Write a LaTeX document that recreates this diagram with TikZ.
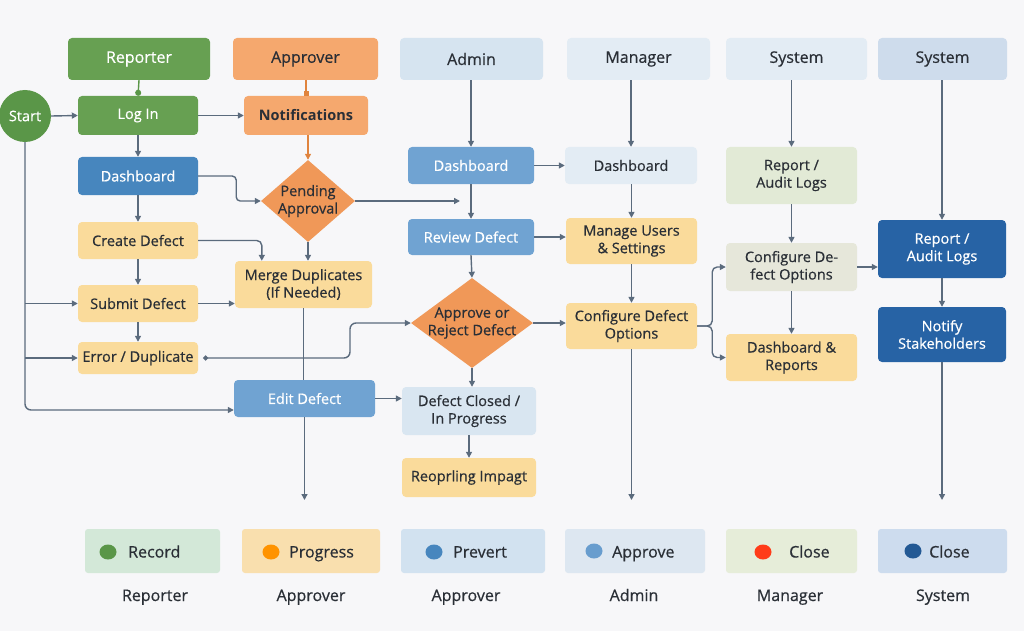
\documentclass[tikz,border=0pt]{standalone}
\usepackage{fontspec}
\setmainfont{Open Sans}[UprightFeatures={FakeBold=0.6}]
\usetikzlibrary{arrows.meta,shapes.geometric}
\definecolor{bg}{HTML}{F7F7F9}
\definecolor{ln}{HTML}{5B6B7D}
\definecolor{txt}{HTML}{2A2F36}
\definecolor{grn}{HTML}{67A052}
\definecolor{grnd}{HTML}{5A9648}
\definecolor{org}{HTML}{F5A86E}
\definecolor{orgd}{HTML}{F09858}
\definecolor{orgl}{HTML}{E0843E}
\definecolor{blu}{HTML}{4786BE}
\definecolor{blum}{HTML}{70A3D2}
\definecolor{bluh}{HTML}{D6E4F0}
\definecolor{blul}{HTML}{E3ECF4}
\definecolor{bluc}{HTML}{D9E6F1}
\definecolor{blus}{HTML}{CEDCEC}
\definecolor{yel}{HTML}{FADB9B}
\definecolor{gry1}{HTML}{E2EAD6}
\definecolor{gry2}{HTML}{E6E7DA}
\definecolor{dblu}{HTML}{2763A5}
\definecolor{lgG}{HTML}{D3E8D8}
\definecolor{lgO}{HTML}{F9DFAE}
\definecolor{lgB}{HTML}{D2E2F0}
\definecolor{lgA}{HTML}{DDE7F1}
\definecolor{lgM}{HTML}{E6EDD9}
\definecolor{lgS}{HTML}{CDDCEE}
\tikzset{
  bx/.style={rectangle, rounded corners=4pt, draw=none, inner sep=2pt, align=center,
     font=\fontsize{14.5}{17.5}\selectfont, text=txt},
  hd/.style={bx, font=\fontsize{16}{19}\selectfont, minimum height=42pt},
  wt/.style={text=white},
  dia/.style={diamond, fill=orgd, draw=none, inner sep=0pt},
  arr/.style={draw=ln, line width=1.4pt, -{Triangle[length=6pt,width=6pt]}},
  ln0/.style={draw=ln, line width=1.2pt},
  lg/.style={rectangle, rounded corners=3pt, minimum height=44pt},
  dot/.style={ellipse, minimum width=17pt, minimum height=15pt, inner sep=0pt},
  lgt/.style={font=\fontsize{16}{19}\selectfont, text=txt, inner sep=0pt},
}
\begin{document}
\begin{tikzpicture}[x=1pt,y=-1pt]
\fill[bg] (0,0) rectangle (1024,631);
\useasboundingbox (0,0) rectangle (1024,631);
% headers
\node[hd, fill=grn, wt, minimum width=142pt] (hRep) at (139,59) {Reporter};
\node[hd, fill=org, minimum width=145pt] (hApp) at (305.5,59) {Approver};
\node[hd, fill=bluh, minimum width=143pt] (hAdm) at (471.5,59) {Admin};
\node[hd, fill=blul, minimum width=143pt] (hMan) at (638.5,59) {Manager};
\node[hd, fill=blul, minimum width=141pt] (hSys1) at (796.5,59) {System};
\node[hd, fill=blus, minimum width=129pt] (hSys2) at (942.5,59) {System};
% reporter column
\node[circle, fill=grnd, minimum size=52pt, inner sep=0pt, text=white, font=\fontsize{14.5}{17}\selectfont] (start) at (25,116) {Start};
\node[bx, fill=grn, wt, minimum width=120pt, minimum height=39pt] (login) at (138,115.5) {Log In};
\node[bx, fill=blu, wt, minimum width=120pt, minimum height=38pt] (dash1) at (138,176) {Dashboard};
\node[bx, fill=yel, minimum width=120pt, minimum height=37pt] (create) at (138,240.5) {Create Defect};
\node[bx, fill=yel, minimum width=120pt, minimum height=37pt] (submit) at (138,303.5) {Submit Defect};
\node[bx, fill=yel, minimum width=120pt, minimum height=32pt] (error) at (138,358) {Error / Duplicate};
% approver column
\node[bx, fill=org, minimum width=124pt, minimum height=39pt, font=\fontsize{14.5}{17.5}\selectfont\bfseries] (notif) at (306,115.5) {Notifications};
\node[dia, minimum width=94pt, minimum height=82pt] (pend) at (308,201) {};
\node[bx, fill=none] (pendT) at (pend.center) {Pending\\Approval};
\node[bx, fill=yel, minimum width=137pt, minimum height=47pt] (merge) at (303.5,284.5) {Merge Duplicates\\(If Needed)};
\node[bx, fill=blum, wt, minimum width=141pt, minimum height=37pt] (edit) at (304.5,398.5) {Edit Defect};
% admin column
\node[bx, fill=blum, wt, minimum width=126pt, minimum height=37pt] (adash) at (471,165.5) {Dashboard};
\node[bx, fill=blum, wt, minimum width=126pt, minimum height=36pt] (review) at (471,237) {Review Defect};
\node[dia, minimum width=122pt, minimum height=90pt] (appr) at (472,323) {};
\node[bx, fill=none] (apprT) at (appr.center) {Approve or\\Reject Defect};
\node[bx, fill=bluc, minimum width=134pt, minimum height=48pt] (closed) at (469,411) {Defect Closed /\\In Progress};
\node[bx, fill=yel, minimum width=134pt, minimum height=39pt] (reop) at (469,477.5) {Reoprling Impagt};
% manager column
\node[bx, fill=blul, minimum width=132pt, minimum height=37pt] (mdash) at (631,165.5) {Dashboard};
\node[bx, fill=yel, minimum width=131pt, minimum height=46pt] (manage) at (631.5,241) {Manage Users\\\& Settings};
\node[bx, fill=yel, minimum width=131pt, minimum height=46pt] (config) at (631.5,326) {Configure Defect\\Options};
% system 1
\node[bx, fill=gry1, minimum width=131pt, minimum height=57pt] (rep1) at (791.5,175.5) {Report /\\Audit Logs};
\node[bx, fill=gry2, minimum width=131pt, minimum height=48pt] (cfg2) at (791.5,267) {Configure De-\\fect Options};
\node[bx, fill=yel, minimum width=131pt, minimum height=47pt] (dashrep) at (791.5,357.5) {Dashboard \&\\Reports};
% system 2
\node[bx, fill=dblu, wt, minimum width=128pt, minimum height=58pt] (rep2) at (942,249) {Report /\\Audit Logs};
\node[bx, fill=dblu, wt, minimum width=128pt, minimum height=55pt] (notify) at (942,334.5) {Notify\\Stakeholders};
% free ends
\coordinate (pendEnd) at (460,201);
\coordinate (editEnd) at (304.5,500);
\coordinate (configEnd) at (631.5,500);
\coordinate (notifyEnd) at (942,500);
% connectors
\draw[draw=grnd, line width=1.4pt, -{Circle[length=6pt]}] (hRep.south) -- (login.north);
\draw[draw=orgl, line width=1.4pt, -{Square[length=5pt]}] (hApp.south -| notif.north) -- (notif.north);
\draw[arr] (start.east) -- (login.west);
\draw[arr] (login.east) -- (notif.west);
\draw[arr] (login.south) -- (dash1.north);
\draw[arr] (dash1.south) -- (create.north);
\draw[arr] (create.south) -- (submit.north);
\draw[arr] (submit.south) -- (error.north);
\draw[arr, draw=orgl] (notif.south -| pend.north) -- (pend.north);
\draw[arr, rounded corners=4pt] (dash1.east) -- ++(38,0) |- (pend.west);
\draw[arr] (pend.east) -- (pendEnd);
\draw[arr] (pend.south) -- (pend.south |- merge.north);
\draw[arr, rounded corners=5pt] (create.east) -| ([xshift=27pt]merge.north west);
\draw[arr] (submit.east) -- (submit.east -| merge.west);
\draw[ln0] (merge.south) -- (merge.south |- edit.north);
\draw[arr, rounded corners=6pt] (start.south) -- (start.south |- 0,410) -- (edit.west |- 0,410);
\draw[arr] (start.south |- submit.west) -- (submit.west);
\draw[arr] (start.south |- error.west) -- (error.west);
\draw[arr] (edit.south) -- (editEnd);
\draw[arr] (edit.east) -- (edit.east -| closed.west);
\draw[draw=ln, line width=1.4pt, {Circle[length=5pt]}-{Triangle[length=6pt,width=6pt]}, rounded corners=6pt]
   ([xshift=5pt]error.east) -- (350,358) -- (350,323) -- (appr.west);
\draw[arr] (hAdm.south -| adash.north) -- (adash.north);
\draw[arr] (adash.south) -- (review.north);
\draw[arr] (review.south) -- (appr.north);
\draw[arr] (appr.south) -- (appr.south |- closed.north);
\draw[arr] (closed.south) -- (reop.north);
\draw[arr] (adash.east) -- (mdash.west |- adash.east);
\draw[arr] (review.east) -- (manage.west |- review.east);
\draw[arr] (appr.east) -- (config.west |- appr.east);
\draw[arr] (mdash.north |- hMan.south) -- (mdash.north);
\draw[arr] (mdash.south -| manage.north) -- (manage.north);
\draw[arr] (manage.south) -- (config.north);
\draw[arr] (config.south) -- (configEnd);
\draw[arr, rounded corners=5pt] (config.east) -- ++(15,0) |- (cfg2.west);
\draw[arr, rounded corners=5pt] (config.east) -- ++(15,0) |- (dashrep.west);
\draw[arr] (rep1.north |- hSys1.south) -- (rep1.north);
\draw[arr] (rep1.south) -- (cfg2.north);
\draw[arr] (cfg2.south) -- (dashrep.north);
\draw[arr] (cfg2.east) -- (rep2.west |- cfg2.east);
\draw[arr] (hSys2.south -| rep2.north) -- (rep2.north);
\draw[arr] (rep2.south) -- (notify.north);
\draw[arr] (notify.south) -- (notifyEnd);
% legend
\node[lg, fill=lgG, minimum width=135pt] (lg1) at (152.5,551) {};
\node[dot, fill=grnd] (d1) at (108,552) {};
\node[lgt, anchor=base west] (t1) at (128,557.5) {Record};
\node[lg, fill=lgO, minimum width=138pt] (lg2) at (311,551) {};
\node[dot, fill=orange!85!yellow] (d2) at (271,552) {};
\node[lgt, anchor=base west] (t2) at (289,557.5) {Progress};
\node[lg, fill=lgB, minimum width=144pt] (lg3) at (473,551) {};
\node[dot, fill=blu] (d3) at (434,552) {};
\node[lgt, anchor=base west] (t3) at (453,557.5) {Prevert};
\node[lg, fill=lgA, minimum width=140pt] (lg4) at (635,551) {};
\node[dot, fill=blum!80!blu] (d4) at (594,551) {};
\node[lgt, anchor=base west] (t4) at (612,557.5) {Approve};
\node[lg, fill=lgM, minimum width=131pt] (lg5) at (791.5,551) {};
\node[dot, fill=red!70!orange!90!white] (d5) at (763,552) {};
\node[lgt, anchor=base west] (t5) at (789,557.5) {Close};
\node[lg, fill=lgS, minimum width=129pt] (lg6) at (942.5,551) {};
\node[dot, fill=dblu!90!black] (d6) at (913,551) {};
\node[lgt, anchor=base west] (t6) at (929,557.5) {Close};
\node[lgt, anchor=base] (l1) at (155,601) {Reporter};
\node[lgt, anchor=base] (l2) at (311,601) {Approver};
\node[lgt, anchor=base] (l3) at (466,601) {Approver};
\node[lgt, anchor=base] (l4) at (634,601) {Admin};
\node[lgt, anchor=base] (l5) at (790,601) {Manager};
\node[lgt, anchor=base] (l6) at (943,601) {System};
\end{tikzpicture}
\end{document}
